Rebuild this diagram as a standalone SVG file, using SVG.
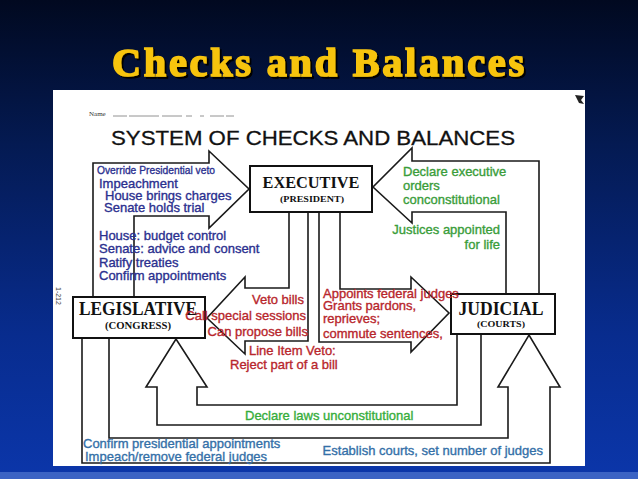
<svg xmlns="http://www.w3.org/2000/svg" width="638" height="479" viewBox="0 0 638 479">
<defs>
<linearGradient id="bg" x1="0" y1="0" x2="0" y2="1">
<stop offset="0" stop-color="#010920"/>
<stop offset="0.3" stop-color="#041a52"/>
<stop offset="0.7" stop-color="#082c8e"/>
<stop offset="1" stop-color="#0b36aa"/>
</linearGradient>
<filter id="shadow" x="-5%" y="-20%" width="110%" height="140%">
<feDropShadow dx="2" dy="2" stdDeviation="0.6" flood-color="#000" flood-opacity="1"/>
</filter>
<style>
.arr{fill:none;stroke:#1a1a1a;stroke-width:1.6;stroke-linejoin:miter}
.box{fill:#fff;stroke:#111;stroke-width:2}
.bt{font-family:"Liberation Serif",serif;font-weight:bold;fill:#111;text-anchor:middle}
.t{font-family:"Liberation Sans",Arial,sans-serif;font-size:13px;stroke-width:0.35px}
.navy{fill:#2b308f;stroke:#2b308f}
.red{fill:#b8262c;stroke:#b8262c}
.green{fill:#3a9d3a;stroke:#3a9d3a}
.lgreen{fill:#36ad3b;stroke:#36ad3b}
.blue{fill:#3470a8;stroke:#3470a8}
.end{text-anchor:end}
.title{font-family:"Liberation Serif",serif;font-weight:bold;font-size:40px;stroke-width:1.6px}
</style>
</defs>
<rect x="0" y="0" width="638" height="479" fill="url(#bg)"/>
<rect x="0" y="472" width="638" height="7" fill="#3b63c4"/>
<text class="title" x="112" y="76" fill="#f7c411" stroke="#f7c411" filter="url(#shadow)" textLength="412" lengthAdjust="spacing">Checks and Balances</text>
<rect x="53" y="90" width="532" height="376" fill="#ffffff"/>
<g id="header">
<text x="89" y="116" font-family="Liberation Serif,serif" font-size="7" fill="#333">Name</text>
<line x1="113" y1="116" x2="234" y2="116" stroke="#777" stroke-width="0.8" stroke-dasharray="14 2 30 3 20 4 6 8 4 6"/>
<text x="111" y="145" font-family="Liberation Sans,Arial,sans-serif" font-size="21" fill="#111" stroke="#111" stroke-width="0.3" textLength="404" lengthAdjust="spacingAndGlyphs">SYSTEM OF CHECKS AND BALANCES</text>
<text transform="translate(56,287) rotate(90)" font-family="Liberation Sans,Arial,sans-serif" font-size="7" fill="#444">1-212</text>
<path d="M575,95 L584,96 L581,100 L584,104 L579,103 L577,99 Z" fill="#222"/>
</g>
<g id="connectors">
<path id="leg-to-exec" class="arr" d="M93,297 V163 H209 V151 L249,189 L209,228 V216 H134 V297"/>
<path id="exec-to-leg" class="arr" d="M289,212 V288 H245 V277 L207,318 L245,354 V341 H308 V212"/>
<path id="exec-to-jud" class="arr" d="M340,212 V289 H411 V277 L449,313 L411,352 V342 H319 V212"/>
<path id="jud-to-exec" class="arr" d="M539,294 V161 H412 V148 L373,187 L412,223 V212 H506 V294"/>
<path id="jud-to-leg" class="arr" d="M457,334 V405 H197 V387 H207 L176,339 L146,387 H157 V425 H481 V334"/>
<path id="leg-to-jud" class="arr" d="M109,338 V438 H508 V387 H498 L529,335 L560,387 H550 V463 H82 V338"/>
</g>
<g id="node-executive">
<rect class="box" x="250" y="166" width="122" height="46"/>
<text class="bt" x="311" y="188" font-size="17" textLength="97" lengthAdjust="spacingAndGlyphs">EXECUTIVE</text>
<text class="bt" x="312" y="202" font-size="9" textLength="64" lengthAdjust="spacingAndGlyphs">(PRESIDENT)</text>
</g>
<g id="node-legislative">
<rect class="box" x="73" y="297" width="132" height="41"/>
<text class="bt" x="138" y="315" font-size="18" textLength="118" lengthAdjust="spacingAndGlyphs">LEGISLATIVE</text>
<text class="bt" x="138" y="329" font-size="9.5" textLength="66" lengthAdjust="spacingAndGlyphs">(CONGRESS)</text>
</g>
<g id="node-judicial">
<rect class="box" x="451" y="294" width="104" height="40"/>
<text class="bt" x="501" y="315" font-size="18" textLength="85" lengthAdjust="spacingAndGlyphs">JUDICIAL</text>
<text class="bt" x="501" y="327" font-size="9" textLength="48" lengthAdjust="spacingAndGlyphs">(COURTS)</text>
</g>
<g id="labels">
<text class="t navy" x="97" y="174" style="font-size:11.5px" textLength="118" lengthAdjust="spacingAndGlyphs">Override Presidential veto</text>
<text class="t navy" x="99" y="188">Impeachment</text>
<text class="t navy" x="105" y="200">House brings charges</text>
<text class="t navy" x="104" y="212">Senate holds trial</text>
<text class="t navy" x="99" y="240">House: budget control</text>
<text class="t navy" x="99" y="253">Senate: advice and consent</text>
<text class="t navy" x="99" y="267">Ratify treaties</text>
<text class="t navy" x="99" y="280">Confirm appointments</text>
<text class="t red end" x="304" y="304">Veto bills</text>
<text class="t red end" x="306" y="320">Call special sessions</text>
<text class="t red end" x="308" y="336">Can propose bills</text>
<text class="t red" x="249" y="355">Line Item Veto:</text>
<text class="t red" x="230" y="369">Reject part of a bill</text>
<text class="t red" x="323" y="298">Appoints federal judges</text>
<text class="t red" x="323" y="310">Grants pardons,</text>
<text class="t red" x="323" y="323">reprieves;</text>
<text class="t red" x="323" y="338">commute sentences,</text>
<text class="t green" x="403" y="176">Declare executive</text>
<text class="t green" x="403" y="190">orders</text>
<text class="t green" x="403" y="204">conconstitutional</text>
<text class="t green end" x="500" y="234">Justices appointed</text>
<text class="t green end" x="500" y="249">for life</text>
<text class="t lgreen" x="245" y="420">Declare laws unconstitutional</text>
<text class="t blue" x="83" y="448">Confirm presidential appointments</text>
<text class="t blue" x="85" y="461">Impeach/remove federal judges</text>
<text class="t blue end" x="543" y="455">Establish courts, set number of judges</text>
</g>
</svg>
